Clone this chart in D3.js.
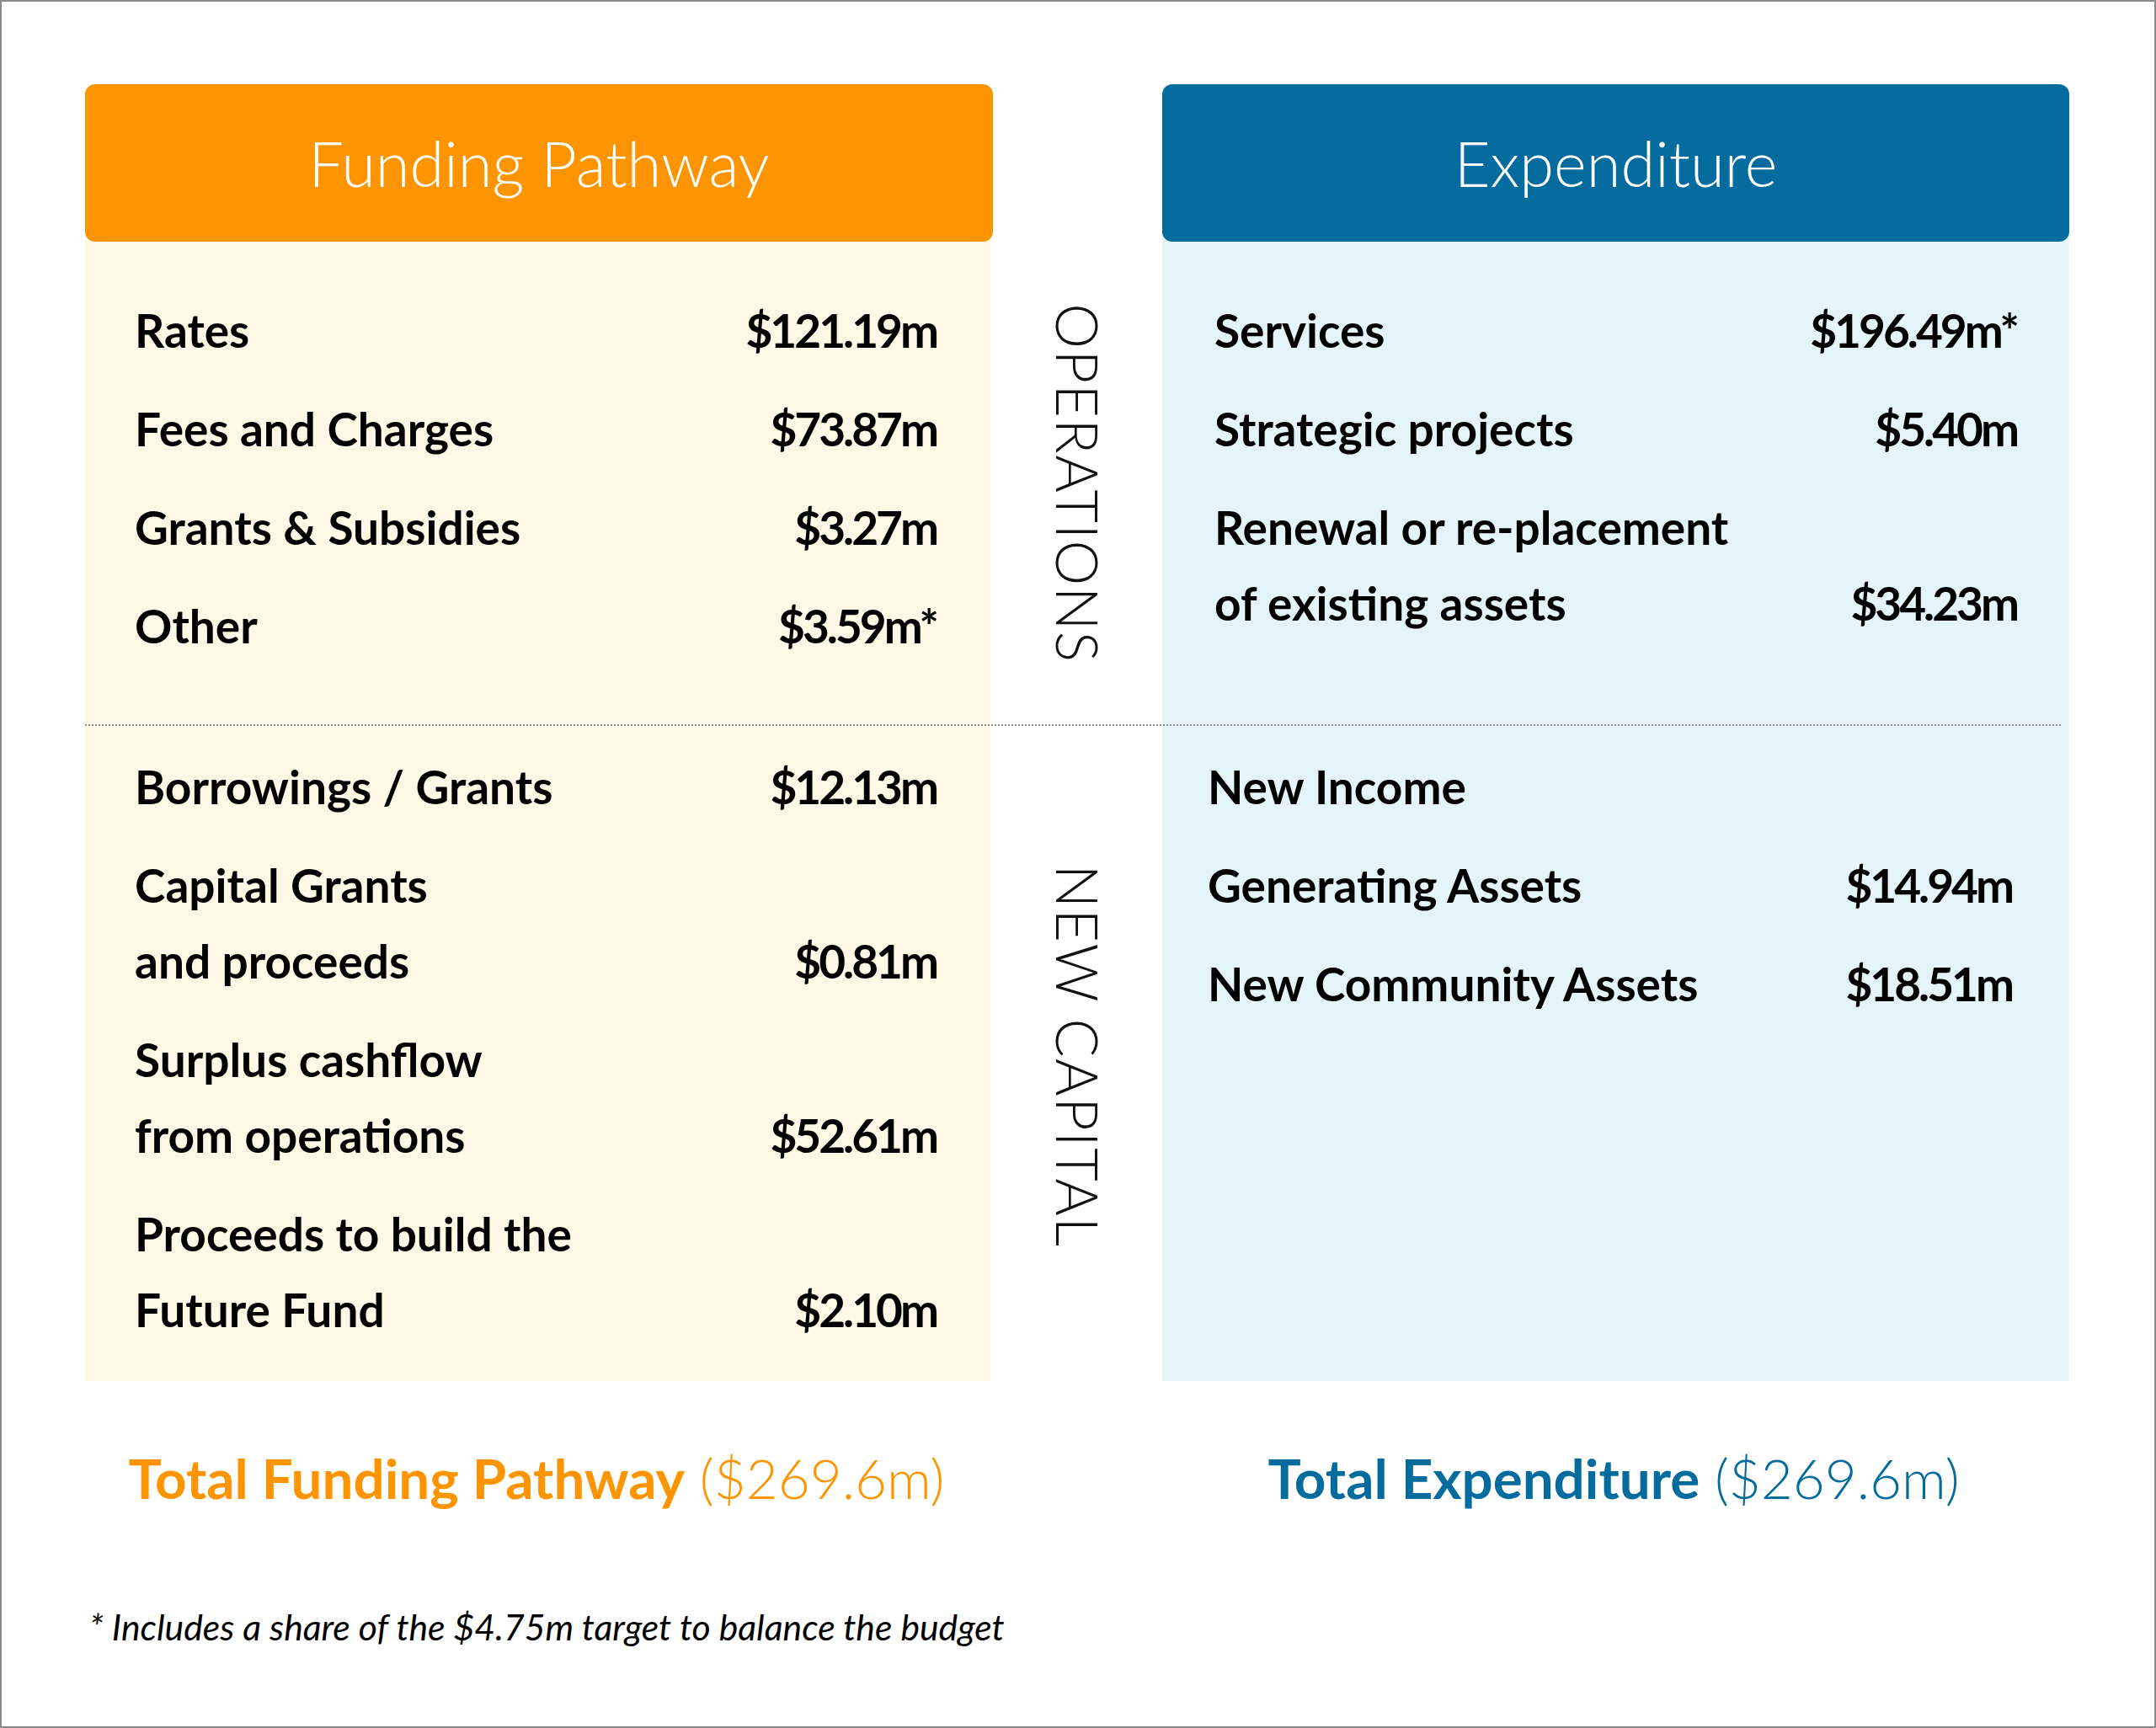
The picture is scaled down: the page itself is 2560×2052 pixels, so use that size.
<!DOCTYPE html>
<html>
<head>
<meta charset="utf-8">
<script src="https://cdn.jsdelivr.net/npm/d3@7"></script>
<style>
  html, body { margin: 0; padding: 0; background: #fff; }
  svg { display: block; }
  text { font-family: Lato, "Open Sans", sans-serif; }
</style>
</head>
<body>
<script>
// ---------- DATA ----------
const panelTitles = ["Funding Pathway", "Expenditure"];
const sectionLabels = ["OPERATIONS", "NEW CAPITAL"];

const fundingOpsLabels = [["Rates"], ["Fees and Charges"], ["Grants & Subsidies"], ["Other"]];
const fundingOpsValues = [121.19, 73.87, 3.27, 3.59];
const fundingOpsFlags  = ["", "", "", "*"];

const fundingCapLabels = [["Borrowings / Grants"], ["Capital Grants", "and proceeds"], ["Surplus cashflow", "from operations"], ["Proceeds to build the", "Future Fund"]];
const fundingCapValues = [12.13, 0.81, 52.61, 2.10];
const fundingCapFlags  = ["", "", "", ""];

const expOpsLabels = [["Services"], ["Strategic projects"], ["Renewal or re-placement", "of existing assets"]];
const expOpsValues = [196.49, 5.40, 34.23];
const expOpsFlags  = ["*", "", ""];

const expCapLabels = [["New Income"], ["Generating Assets"], ["New Community Assets"]];
const expCapValues = [null, 14.94, 18.51];
const expCapFlags  = ["", "", ""];

const totalLabels = ["Total Funding Pathway", "Total Expenditure"];
const totalValues = [269.6, 269.6];

const footnote = "* Includes a share of the $4.75m target to balance the budget";

// ---------- LAYOUT ----------
const W = 2560, H = 2052;
const ORANGE = "#FD9400", BLUE = "#046B9F";
const CREAM = "#FEF9E6", ICE = "#E4F4F8";

const svg = d3.select("body").append("svg").attr("width", W).attr("height", H);

// outer frame
svg.append("rect").attr("x", 1).attr("y", 1).attr("width", W - 2).attr("height", H - 2)
  .attr("fill", "#fff").attr("stroke", "#8a8a8a").attr("stroke-width", 2);

const panelX = d3.scaleOrdinal().domain([0, 1]).range([101, 1380]);
const panelW = [1075, 1077];
const headW = [1078, 1077];
const panelFill = [CREAM, ICE];
const headFill = [ORANGE, BLUE];

// body panels
panelTitles.forEach((t, i) => {
  svg.append("rect").attr("x", panelX(i)).attr("y", 270).attr("width", panelW[i]).attr("height", 1640 - 270)
    .attr("fill", panelFill[i]);
  svg.append("rect").attr("x", panelX(i)).attr("y", 100).attr("width", headW[i]).attr("height", 187)
    .attr("rx", 12).attr("ry", 12).attr("fill", headFill[i]);
  svg.append("text").attr("x", panelX(i) + headW[i] / 2).attr("y", 222)
    .attr("text-anchor", "middle").attr("fill", "#fff")
    .attr("font-size", 74).attr("font-weight", 300).text(t);
});

// dotted divider
svg.append("line").attr("x1", 101).attr("x2", 2447).attr("y1", 861).attr("y2", 861)
  .attr("stroke", "#8c8c8c").attr("stroke-width", 2).attr("stroke-dasharray", "2 2");

// vertical section labels
const sectionY = d3.scaleOrdinal().domain(sectionLabels).range([574, 1254]);
sectionLabels.forEach(s => {
  svg.append("text")
    .attr("transform", `translate(1278,${sectionY(s)}) rotate(90)`)
    .attr("text-anchor", "middle").attr("dy", "0.36em")
    .attr("font-size", 68).attr("font-weight", 300).attr("letter-spacing", 1.5)
    .attr("fill", "#111").text(s);
});

// rows
const fmt = d3.format(".2f");
const ITEM = 117, LINE = 90, FS = 55;

function drawBlock(labels, values, flags, startY, labelX, valueX) {
  let y = startY;
  const g = svg.append("g");
  labels.forEach((lines, i) => {
    lines.forEach((ln, j) => {
      g.append("text").attr("x", labelX).attr("y", y + j * LINE)
        .attr("font-size", FS).attr("font-weight", 700).attr("fill", "#000").text(ln);
    });
    const lastY = y + (lines.length - 1) * LINE;
    if (values[i] != null) {
      g.append("text").attr("x", valueX).attr("y", lastY)
        .attr("text-anchor", "end").attr("font-size", FS).attr("font-weight", 700)
        .attr("letter-spacing", -3).attr("fill", "#000")
        .text("$" + fmt(values[i]) + "m" + flags[i]);
    }
    y = lastY + ITEM;
  });
}

drawBlock(fundingOpsLabels, fundingOpsValues, fundingOpsFlags, 413, 160, 1112);
drawBlock(fundingCapLabels, fundingCapValues, fundingCapFlags, 955, 160, 1112);
drawBlock(expOpsLabels, expOpsValues, expOpsFlags, 413, 1442, 2395);
drawBlock(expCapLabels, expCapValues, expCapFlags, 955, 1434, 2389);

// totals
const totalCX = [637, 1916];
totalLabels.forEach((t, i) => {
  const tx = svg.append("text").attr("x", totalCX[i]).attr("y", 1780)
    .attr("text-anchor", "middle").attr("font-size", 65.5).attr("fill", headFill[i]);
  tx.append("tspan").attr("font-weight", 700).text(t);
  tx.append("tspan").attr("font-weight", 300).text(" ($" + d3.format(".1f")(totalValues[i]) + "m)");
});

// footnote
svg.append("text").attr("x", 106).attr("y", 1948)
  .attr("font-size", 42.7).attr("font-style", "italic").attr("fill", "#000").text(footnote);
</script>
</body>
</html>
